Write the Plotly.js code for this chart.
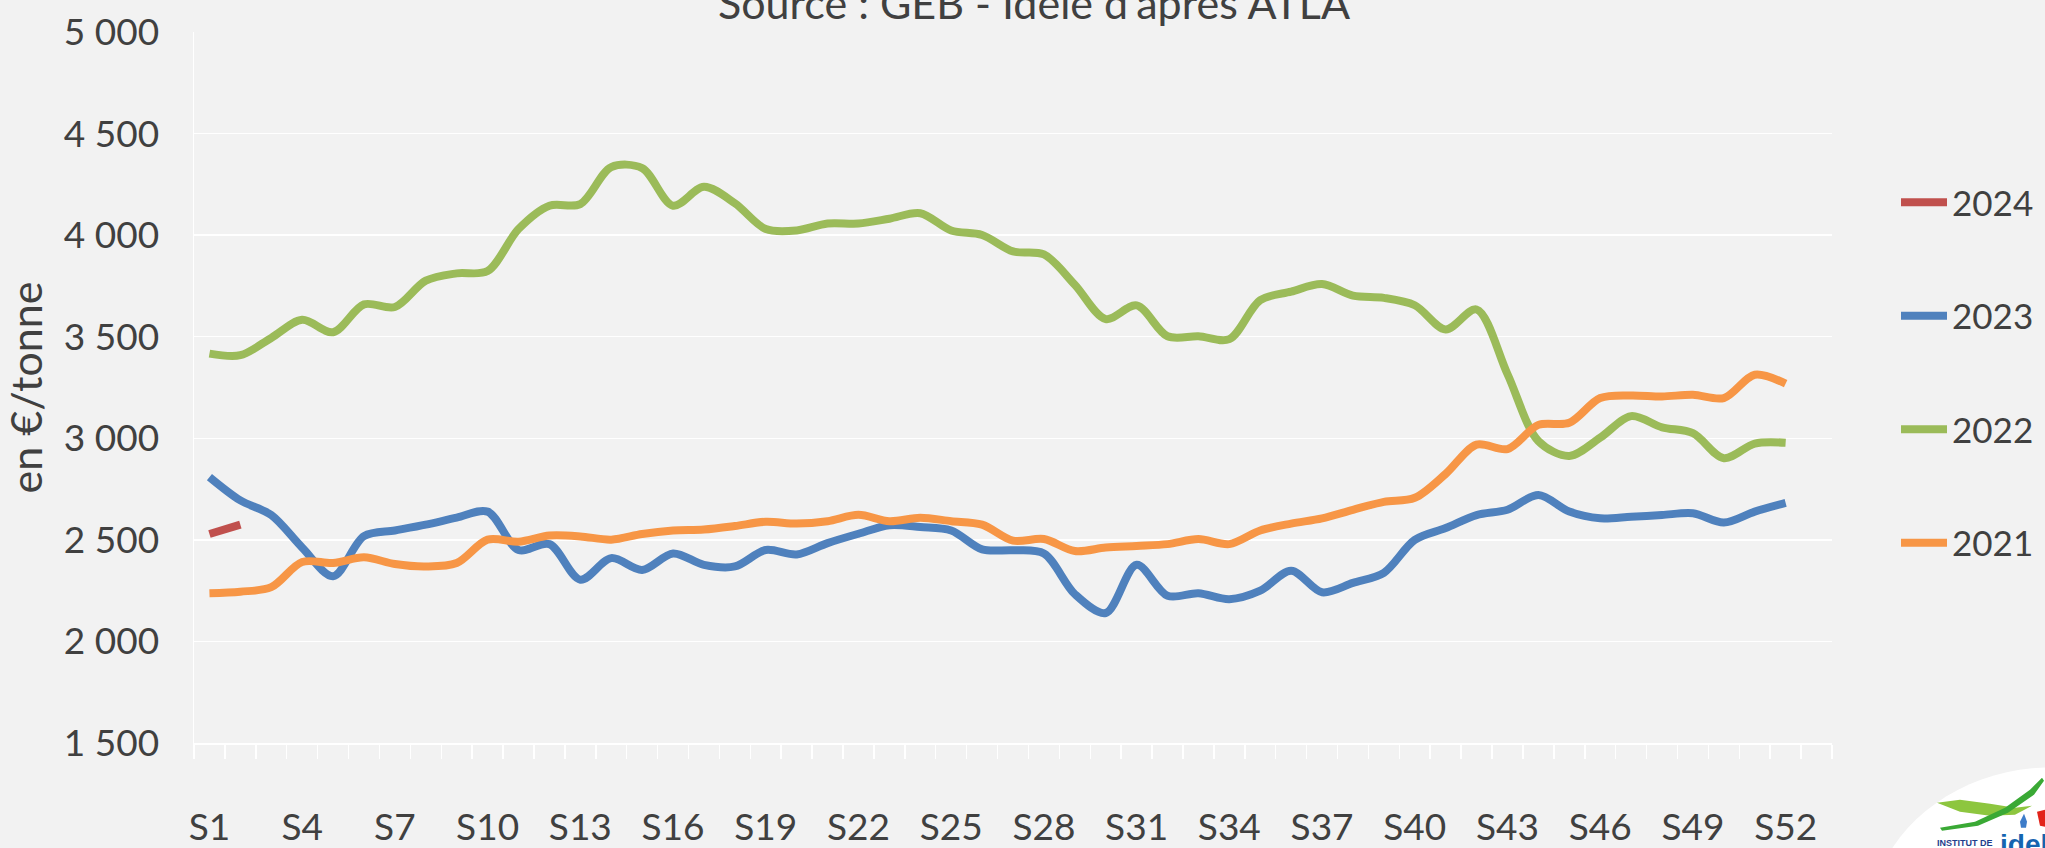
<!DOCTYPE html>
<html>
<head>
<meta charset="utf-8">
<script src="https://cdn.plot.ly/plotly-3.0.1.min.js"></script>
<style>
  html, body { margin: 0; padding: 0; background: #F2F2F2; }
  #chart { width: 2045px; height: 848px; }
</style>
</head>
<body>
<div id="chart"></div>
<script>
// ---- Data (€/tonne, by week) ----
const weeks = [1,2,3,4,5,6,7,8,9,10,11,12,13,14,15,16,17,18,19,20,21,22,23,24,25,26,
               27,28,29,30,31,32,33,34,35,36,37,38,39,40,41,42,43,44,45,46,47,48,49,50,51,52];
const tickWeeks  = [1,4,7,10,13,16,19,22,25,28,31,34,37,40,43,46,49,52];
const tickLabels = ["S1","S4","S7","S10","S13","S16","S19","S22","S25","S28","S31","S34","S37","S40","S43","S46","S49","S52"];

const y2024 = [2529, 2575];
const y2023 = [2809,2694,2622,2462,2321,2518,2546,2575,2609,2639,2450,2479,2304,2410,2352,2433,2377,2369,2450,2428,2484,2530,2572,2563,2546,2453,
               2449,2433,2233,2140,2377,2225,2237,2208,2250,2348,2242,2288,2338,2500,2558,2622,2648,2721,2639,2606,2614,2622,2631,2585,2639,2682];
const y2022 = [3417,3409,3494,3583,3522,3659,3646,3776,3812,3823,4030,4145,4153,4335,4330,4145,4238,4157,4030,4023,4057,4057,4081,4108,4023,4001,
               3920,3905,3756,3587,3654,3502,3502,3488,3680,3722,3759,3702,3691,3655,3536,3634,3316,2986,2913,3003,3109,3054,3025,2902,2974,2978];
const y2021 = [2237,2245,2267,2391,2386,2414,2381,2369,2386,2501,2491,2521,2517,2501,2529,2546,2551,2568,2589,2580,2592,2623,2592,2609,2592,2575,
               2496,2504,2445,2462,2470,2479,2504,2479,2546,2580,2606,2648,2687,2707,2825,2969,2947,3066,3076,3198,3211,3206,3214,3198,3313,3269];

const seriesNames  = ["2024","2023","2022","2021"];
const seriesValues = [y2024, y2023, y2022, y2021];
const seriesColors = ["#C0504D","#4F81BD","#9BBB59","#F79646"];

const FONT = "Lato, 'Open Sans', sans-serif";
const TXT = "#404040";

const traces = seriesNames.map((name, k) => ({
  type: "scatter",
  mode: "lines",
  name: name,
  legendgroup: name,
  x: weeks.slice(0, seriesValues[k].length),
  y: seriesValues[k],
  line: { color: seriesColors[k], width: 8, shape: "spline", smoothing: 0.9 },
  hoverinfo: "skip"
}));

// ---- logo decoration (paper coords from pixel positions) ----
const L = 194, R = 1832, T = 32, B = 743.3;
const px = v => (v - L) / (R - L);
const py = v => (B - v) / (B - T);
function ellipsePath(cx, cy, a, b, th) {
  let d = "";
  for (let i = 0; i <= 72; i++) {
    const t = i / 72 * 2 * Math.PI;
    const X = cx + a * Math.cos(t) * Math.cos(th) - b * Math.sin(t) * Math.sin(th);
    const Y = cy + a * Math.cos(t) * Math.sin(th) + b * Math.sin(t) * Math.cos(th);
    d += (i === 0 ? "M" : "L") + px(X).toFixed(5) + "," + py(Y).toFixed(5);
  }
  return d + "Z";
}
function polyPath(pts) {
  return pts.map((p, i) => (i === 0 ? "M" : "L") + px(p[0]).toFixed(5) + "," + py(p[1]).toFixed(5)).join("") + "Z";
}

const shapes = [
  { type: "path", xref: "paper", yref: "paper", layer: "above",
    path: ellipsePath(2020, 885, 150, 112, -0.35),
    fillcolor: "#FFFFFF", line: { width: 0 } },
  { type: "path", xref: "paper", yref: "paper", layer: "above",
    path: polyPath([[1937,803],[1960,800],[1990,804],[2015,808],[2032,806],[2015,815],[1990,816],[1960,812]]),
    fillcolor: "#8DC63F", line: { width: 0 } },
  { type: "path", xref: "paper", yref: "paper", layer: "above",
    path: polyPath([[1940,828],[1975,822],[2005,808],[2030,790],[2042,778],[2044,781],[2034,795],[2008,813],[1978,826],[1942,831]]),
    fillcolor: "#3AA935", line: { width: 0 } },
  { type: "path", xref: "paper", yref: "paper", layer: "above",
    path: polyPath([[2037,812],[2045,810],[2045,827],[2040,826]]),
    fillcolor: "#E2231A", line: { width: 0 } },
  { type: "path", xref: "paper", yref: "paper", layer: "above",
    path: polyPath([[2024,814],[2027,822],[2026,828],[2021,828],[2020,822]]),
    fillcolor: "#3D7CC9", line: { width: 0 } }
];

const annotations = [
  { text: "Source : GEB - Idele d'après ATLA", xref: "paper", yref: "paper",
    x: px(1034), y: py(30), xanchor: "center", yanchor: "bottom", showarrow: false,
    font: { family: FONT, size: 43, color: TXT } },
  { text: "<b>INSTITUT DE</b>", xref: "paper", yref: "paper",
    x: px(1935), y: py(843), xanchor: "left", yanchor: "middle", showarrow: false,
    font: { family: "Liberation Sans, sans-serif", size: 9, color: "#1F3E8C" } },
  { text: "<b>idele</b>", xref: "paper", yref: "paper",
    x: px(1998), y: py(845), xanchor: "left", yanchor: "middle", showarrow: false,
    font: { family: "Liberation Sans, sans-serif", size: 28, color: "#1565B0" } }
];

const layout = {
  width: 2045, height: 848,
  margin: { l: 194, r: 213, t: 32, b: 105, pad: 0, autoexpand: false },
  paper_bgcolor: "#F2F2F2",
  plot_bgcolor: "#F2F2F2",
  separators: ", ",
  font: { family: FONT, size: 37, color: TXT },
  showlegend: true,
  legend: {
    x: px(1896), xanchor: "left",
    y: py(173), yanchor: "top",
    traceorder: "grouped",
    tracegroupgap: 65,
    itemwidth: 46,
    borderwidth: 0,
    bgcolor: "rgba(0,0,0,0)",
    font: { family: FONT, size: 35, color: TXT }
  },
  xaxis: {
    type: "linear",
    range: [0.5, 53.5],
    tickmode: "array",
    tickvals: tickWeeks,
    ticktext: tickLabels,
    ticks: "",
    ticklabelstandoff: 51,
    showgrid: false,
    zeroline: false,
    showline: true, linecolor: "#FFFFFF", linewidth: 1.5,
    minor: { ticks: "outside", tick0: 0.5, dtick: 1, ticklen: 14, tickcolor: "#FFFFFF", tickwidth: 1.5, showgrid: false },
    tickfont: { family: FONT, size: 37, color: TXT },
    automargin: false,
    fixedrange: true
  },
  yaxis: {
    range: [1500, 5000],
    tickmode: "linear", tick0: 1500, dtick: 500,
    tickformat: ",d",
    ticks: "",
    ticklabelstandoff: 26,
    showgrid: true, gridcolor: "#FFFFFF", gridwidth: 1.5,
    zeroline: false,
    showline: true, linecolor: "#FFFFFF", linewidth: 1.5,
    title: { text: "en €/tonne", standoff: 18, font: { family: FONT, size: 43, color: TXT } },
    tickfont: { family: FONT, size: 37, color: TXT },
    automargin: false,
    fixedrange: true
  },
  shapes: shapes,
  annotations: annotations
};

Plotly.newPlot("chart", traces, layout, { displayModeBar: false, staticPlot: true });
</script>
</body>
</html>
